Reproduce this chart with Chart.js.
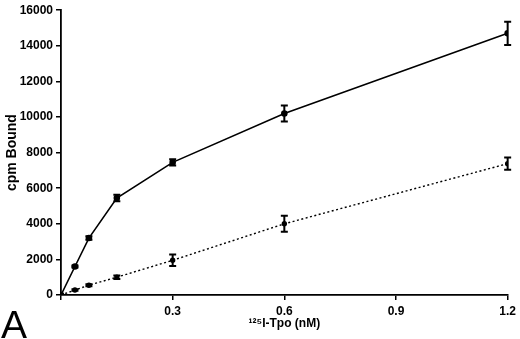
<!DOCTYPE html>
<html>
<head>
<meta charset="utf-8">
<script src="https://cdn.jsdelivr.net/npm/chart.js@4"></script>
<style>
  html, body { margin: 0; padding: 0; background: #fff; }
  #wrap { position: relative; width: 520px; height: 339px; }
</style>
</head>
<body>
<div id="wrap"><canvas id="bindingChart" width="520" height="339"></canvas></div>
<script>
// datos
const doses = [0, 0.0375, 0.075, 0.15, 0.3, 0.6, 1.2];
const totalBound = [0, 1600, 3200, 5450, 7450, 10200, 14700];
const totalErr = [0, 60, 100, 180, 180, 450, 650];
const nonspecBound = [0, 280, 550, 1000, 1950, 4000, 7380];
const nonspecErr = [0, 40, 60, 100, 320, 450, 340];
const xTicks = [0.3, 0.6, 0.9, 1.2];

function puntos(ys) {
    return doses.map((x, i) => ({ x: x, y: ys[i] }));
}

// barras de error dibujadas con las escalas del gráfico
const errorBars = {
    id: 'errorBars',
    afterDatasetsDraw(chart) {
        const ctx = chart.ctx;
        const xs = chart.scales.x, ys = chart.scales.y;
        const errs = [totalErr, nonspecErr];
        ctx.save();
        ctx.strokeStyle = '#000';
        ctx.lineWidth = 2;
        chart.data.datasets.forEach((ds, d) => {
            ds.data.forEach((p, i) => {
                const e = errs[d][i];
                if (!e) return;
                const px = xs.getPixelForValue(p.x);
                const top = ys.getPixelForValue(p.y + e);
                const bot = ys.getPixelForValue(p.y - e);
                ctx.beginPath();
                ctx.moveTo(px, top); ctx.lineTo(px, bot);
                ctx.moveTo(px - 3.5, top); ctx.lineTo(px + 3.5, top);
                ctx.moveTo(px - 3.5, bot); ctx.lineTo(px + 3.5, bot);
                ctx.stroke();
            });
        });
        ctx.restore();
    },
    afterDraw(chart) {
        const ctx = chart.ctx;
        ctx.save();
        ctx.fillStyle = '#000';
        ctx.font = '39px "Liberation Sans", Arial, sans-serif';
        ctx.textBaseline = 'alphabetic';
        ctx.fillText('A', 1, 338);
        ctx.restore();
    }
};

const fuente = { family: '"Liberation Sans", Arial, sans-serif', weight: 'bold', size: 12 };

new Chart(document.getElementById('bindingChart').getContext('2d'), {
    type: 'line',
    data: {
        datasets: [{
            label: 'Total',
            data: puntos(totalBound),
            borderColor: '#000',
            backgroundColor: '#000',
            borderWidth: 1.6,
            pointRadius: 2.5,
            pointBackgroundColor: '#000',
            tension: 0
        }, {
            label: 'No específico',
            data: puntos(nonspecBound),
            borderColor: '#000',
            backgroundColor: '#000',
            borderWidth: 1.4,
            borderDash: [2, 2.5],
            pointRadius: 2,
            pointBackgroundColor: '#000',
            tension: 0
        }]
    },
    options: {
        responsive: false,
        animation: false,
        layout: { padding: { top: 7, right: 10, left: 0, bottom: 0 } },
        plugins: { legend: { display: false }, tooltip: { enabled: false } },
        scales: {
            x: {
                type: 'linear',
                min: 0,
                max: 1.2,
                afterBuildTicks(axis) {
                    axis.ticks = [{ value: 0 }].concat(xTicks.map(v => ({ value: v })));
                },
                afterFit(axis) { axis.height = 44; },
                grid: { drawOnChartArea: false, drawTicks: true, tickLength: 5, color: '#000', lineWidth: 1.5 },
                border: { display: true, color: '#000', width: 1.8 },
                ticks: {
                    color: '#000',
                    font: fuente,
                    padding: 4,
                    callback: v => v === 0 ? '' : v.toFixed(1)
                },
                title: {
                    display: true,
                    text: '¹²⁵I-Tpo (nM)',
                    color: '#000',
                    font: { family: fuente.family, weight: 'bold', size: 12 },
                    padding: { top: 0, bottom: 8 }
                }
            },
            y: {
                min: 0,
                max: 16000,
                afterFit(axis) { axis.width = 61; },
                grid: { drawOnChartArea: false, drawTicks: true, tickLength: 5, color: '#000', lineWidth: 1.5 },
                border: { display: true, color: '#000', width: 1.8 },
                ticks: {
                    stepSize: 2000,
                    color: '#000',
                    font: fuente,
                    padding: 3,
                    callback: v => String(v)
                },
                title: {
                    display: true,
                    text: 'cpm Bound',
                    color: '#000',
                    font: { family: fuente.family, weight: 'bold', size: 14 },
                    padding: { top: 4, bottom: 0 }
                }
            }
        }
    },
    plugins: [errorBars]
});
</script>
</body>
</html>
